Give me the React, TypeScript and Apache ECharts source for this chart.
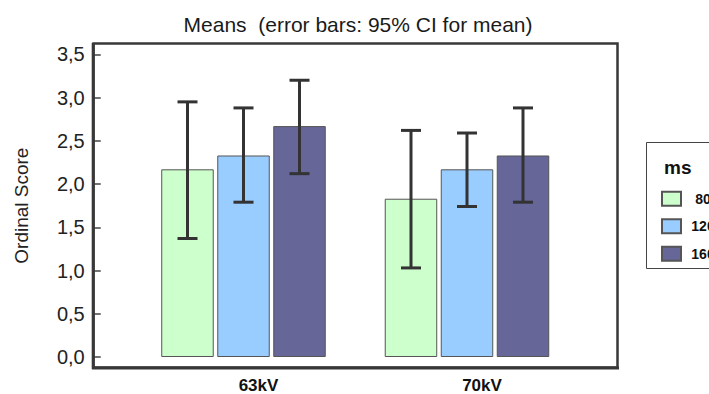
import React, { useEffect, useRef } from "react";
import * as echarts from "echarts";

const categories = ["63kV", "70kV"];
const seriesNames = ["80", "120", "160"];
const means80 = [2.17, 1.83];
const means120 = [2.33, 2.17];
const means160 = [2.67, 2.33];
const ciLow80 = [1.37, 1.03];
const ciHigh80 = [2.95, 2.62];
const ciLow120 = [1.79, 1.74];
const ciHigh120 = [2.88, 2.59];
const ciLow160 = [2.12, 1.79];
const ciHigh160 = [3.2, 2.88];
const yTicks = { min: 0, max: 3.5, interval: 0.5 };

const colors = ["#CCFFCC", "#99CCFF", "#666699"];
const FONT = "'Liberation Sans', Arial, sans-serif";
const BAR_W = 52.5;
const BAR_GAP = 3.5;

export default function App() {
  const ref = useRef<HTMLDivElement>(null);
  useEffect(() => {
    if (!ref.current) return;
    const chart = echarts.init(ref.current, null, { renderer: "svg" });
    const means = [means80, means120, means160];
    const lows = [ciLow80, ciLow120, ciLow160];
    const highs = [ciHigh80, ciHigh120, ciHigh160];

    const barSeries = seriesNames.map((name, i) => ({
      name,
      type: "bar",
      data: means[i],
      barWidth: BAR_W,
      barGap: ((BAR_GAP / BAR_W) * 100).toFixed(2) + "%",
      itemStyle: { color: colors[i], borderColor: "#555", borderWidth: 1 },
      emphasis: { disabled: true },
    }));

    const errSeries = seriesNames.map((name, i) => ({
      name: name + "-ci",
      type: "custom",
      data: categories.map((_, c) => [c, lows[i][c], highs[i][c]]),
      encode: { x: 0, y: [1, 2] },
      z: 10,
      renderItem: (params: any, api: any) => {
        const c = api.value(0);
        const lo = api.coord([c, api.value(1)]);
        const hi = api.coord([c, api.value(2)]);
        const x = lo[0] + (i - 1) * (BAR_W + BAR_GAP);
        const cap = 10;
        const st = { stroke: "#333", lineWidth: 3 };
        return {
          type: "group",
          children: [
            { type: "line", shape: { x1: x, y1: hi[1], x2: x, y2: lo[1] }, style: st },
            { type: "line", shape: { x1: x - cap, y1: hi[1], x2: x + cap, y2: hi[1] }, style: st },
            { type: "line", shape: { x1: x - cap, y1: lo[1], x2: x + cap, y2: lo[1] }, style: st },
          ],
        };
      },
    }));

    chart.setOption({
      animation: false,
      grid: { left: 131.75, right: 130.25, top: 54.3, bottom: 36.7, containLabel: false },
      xAxis: {
        type: "category",
        data: categories,
        axisLine: { show: false },
        axisTick: { show: false },
        axisLabel: {
          fontFamily: FONT,
          fontSize: 17,
          fontWeight: "bold",
          color: "#111",
          margin: 20,
          padding: [0, 0, 0, 30],
        },
      },
      yAxis: {
        type: "value",
        min: yTicks.min,
        max: yTicks.max,
        interval: yTicks.interval,
        offset: 39,
        name: "Ordinal Score",
        nameLocation: "middle",
        nameGap: 62,
        nameRotate: 90,
        nameTextStyle: { fontFamily: FONT, fontSize: 19, color: "#222" },
        axisLine: { show: false },
        axisTick: { show: true, inside: true, length: 8, lineStyle: { color: "#444", width: 1.5 } },
        splitLine: { show: false },
        axisLabel: {
          fontFamily: FONT,
          fontSize: 20,
          color: "#222",
          margin: 8,
          formatter: (v: number) => v.toFixed(1).replace(".", ","),
        },
      },
      legend: {
        data: seriesNames,
        orient: "vertical",
        left: 656,
        top: 185.7,
        itemWidth: 19,
        itemHeight: 14,
        itemGap: 11.5,
        icon: "rect",
        selectedMode: false,
        formatter: (n: string) => `{a|${n}}`,
        textStyle: {
          fontFamily: FONT,
          fontSize: 14,
          fontWeight: "bold",
          color: "#111",
          lineHeight: 14,
          rich: {
            a: {
              fontFamily: FONT,
              fontSize: 14,
              fontWeight: "bold",
              color: "#111",
              lineHeight: 14,
              width: 34,
              align: "center",
            },
          },
        },
      },
      graphic: [
        {
          type: "rect",
          shape: { x: 93.5, y: 43.5, width: 524, height: 324 },
          style: { fill: "none", stroke: "#383838", lineWidth: 2.5 },
          z: 20,
        },
        {
          type: "line",
          shape: { x1: 93.2, y1: 43, x2: 93.2, y2: 369 },
          style: { stroke: "#383838", lineWidth: 3 },
          z: 20,
        },
        {
          type: "line",
          shape: { x1: 92, y1: 368, x2: 619, y2: 368 },
          style: { stroke: "#383838", lineWidth: 3 },
          z: 20,
        },
        {
          type: "text",
          x: 358,
          y: 24.5,
          style: {
            text: "Means  (error bars: 95% CI for mean)",
            fontFamily: FONT,
            fontSize: 21,
            fill: "#1a1a1a",
            textAlign: "center",
            textVerticalAlign: "middle",
          },
        },
        {
          type: "rect",
          shape: { x: 646.5, y: 142.5, width: 100, height: 126 },
          style: { fill: "none", stroke: "#444", lineWidth: 1 },
        },
        {
          type: "text",
          x: 664,
          y: 167.5,
          style: {
            text: "ms",
            fontFamily: FONT,
            fontSize: 19,
            fontWeight: "bold",
            fill: "#111",
            textVerticalAlign: "middle",
          },
        },
      ],
      series: [...barSeries, ...errSeries],
    });
    return () => chart.dispose();
  }, []);
  return (
    <div
      ref={ref}
      style={{ position: "absolute", left: 0, top: 0, width: 709, height: 394, background: "#fff" }}
    />
  );
}
